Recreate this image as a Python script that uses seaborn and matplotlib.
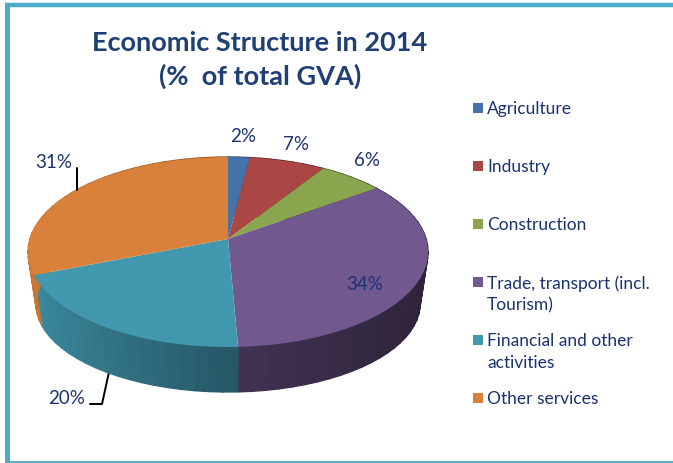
import numpy as np
import matplotlib
matplotlib.use("Agg")
import matplotlib.pyplot as plt
import seaborn as sns
from matplotlib.collections import PolyCollection
from matplotlib.transforms import Transform

categories = ["Agriculture", "Industry", "Construction",
              "Trade, transport (incl.\nTourism)",
              "Financial and other\nactivities", "Other services"]
shares = [2, 7, 6, 34.3, 19.7, 31]
colors = ["#4572A7", "#AA4643", "#89A54E", "#71588F", "#4198AF", "#D9813A"]

TEXT_COL = "#1B3270"
TITLE_COL = "#1F3F75"
FRAME_COL = "#4BACC6"


class TiltTransform(Transform):
    # perspective view of the unit circle, output is in pixels
    input_dims = 2
    output_dims = 2

    def __init__(self, cx, cy, rx, ry, k=0.137):
        super().__init__()
        self.cx, self.cy, self.rx, self.ry, self.k = cx, cy, rx, ry, k

    def transform_non_affine(self, xy):
        xy = np.asarray(xy, dtype=float)
        d = 1 + self.k * xy[:, 1]
        xp = xy[:, 0] * np.sqrt(1 - self.k ** 2) / d
        yp = (xy[:, 1] + self.k) / d
        return np.column_stack([self.cx + self.rx * xp, self.cy - self.ry * yp])


sns.set_theme(style="white")
plt.rcParams["font.family"] = ["Lato", "DejaVu Sans"]

fig = plt.figure(figsize=(6.73, 4.63), dpi=100)
ax = fig.add_axes([0, 0, 1, 1])

top = TiltTransform(228, 252, 200, 95)
bottom = TiltTransform(228, 304, 192, 88)

# top face
wedges, _ = ax.pie(shares, colors=sns.color_palette(colors), startangle=90,
                   counterclock=False, wedgeprops={"linewidth": 0})
for w in wedges:
    w.set_transform(top + ax.transData)
    w.set_zorder(3)
ax.set_aspect("auto")
ax.set_xlim(0, 673)
ax.set_ylim(463, 0)

# side wall, darker towards the right
edges = np.cumsum([0] + shares) / sum(shares) * 2 * np.pi
quads, quad_cols = [], []
for i, c in enumerate(colors):
    th = np.linspace(edges[i], edges[i + 1], max(int(shares[i]), 2) + 1)
    unit = np.column_stack([np.sin(th), np.cos(th)])
    upper = top.transform(unit)
    lower = bottom.transform(unit)
    base = np.array(matplotlib.colors.to_rgb(c))
    for j in range(len(th) - 1):
        quads.append([upper[j], upper[j + 1], lower[j + 1], lower[j]])
        xm = np.sin((th[j] + th[j + 1]) / 2)
        quad_cols.append(base * np.interp(xm, [-1, 0, 1], [0.92, 0.58, 0.40]))
ax.add_collection(PolyCollection(quads, facecolors=quad_cols, edgecolors=quad_cols,
                                 linewidths=1.0, zorder=2))

# frame, open on the right
ax.plot([6.5, 6.5], [463, 5], color=FRAME_COL, lw=3.6, solid_capstyle="butt", zorder=1)
ax.plot([4.5, 673], [5, 5], color=FRAME_COL, lw=3.2, solid_capstyle="butt", zorder=1)
ax.plot([4.5, 673], [462, 462], color=FRAME_COL, lw=2.0, solid_capstyle="butt", zorder=1)

ax.text(260, 60, "Economic Structure in 2014\n(%  of total GVA)", ha="center", va="center",
        fontsize=19.5, fontweight="bold", color=TITLE_COL, linespacing=1.43)

# data labels with leader lines
label_pos = [(243, 137), (296, 144), (367, 161), (365, 284), (67, 398), (54, 163)]
for v, (x, y) in zip(shares, label_pos):
    ax.text(x, y, f"{v:.0f}%", ha="center", va="center", fontsize=13.5, color=TEXT_COL, zorder=5)
ax.plot([76.5, 76.5], [168, 190], color="black", lw=1.4, zorder=4)
ax.plot([90, 102, 109], [404, 404, 372], color="black", lw=1.4, zorder=1)

# legend
legend_y = [108, 166, 224, 282, 340, 398]
ax.scatter([478] * 6, legend_y, marker="s", s=50, c=colors, linewidths=0, zorder=5)
for name, y in zip(categories, legend_y):
    ax.text(487, y - 7, name, ha="left", va="top", fontsize=12.5, color=TEXT_COL,
            linespacing=1.47, zorder=5)

ax.set_axis_off()
fig.savefig("out.png", dpi=100)
